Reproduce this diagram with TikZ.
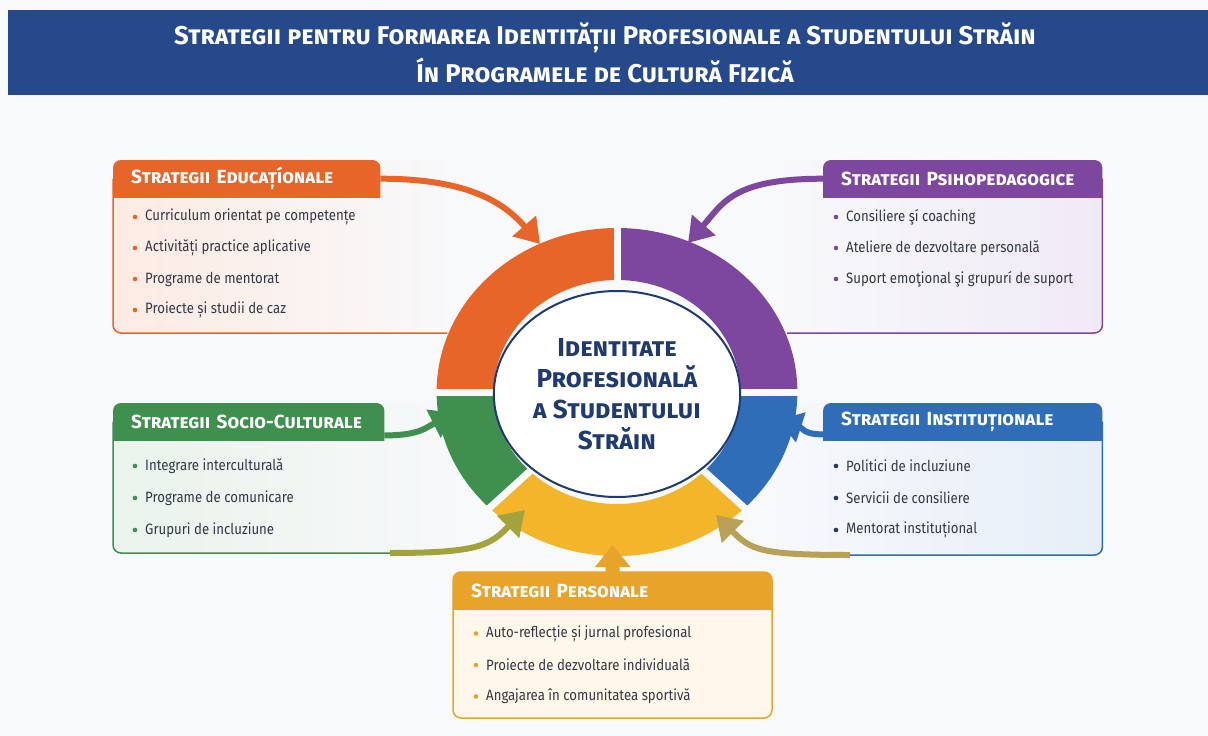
\documentclass[tikz,border=0pt]{standalone}
\usepackage{fontspec}
\setmainfont{Fira Sans}[FakeStretch=0.88]
\newfontfamily\widefont{Fira Sans}
\usetikzlibrary{arrows.meta,backgrounds,shapes.geometric}

\definecolor{titleblue}{HTML}{25498A}
\definecolor{navytext}{HTML}{1E3A6E}
\definecolor{eduorange}{HTML}{E8652A}
\definecolor{edutint}{HTML}{FCEBE3}
\definecolor{psypurple}{HTML}{7D479F}
\definecolor{psytint}{HTML}{F0EAF6}
\definecolor{socgreen}{HTML}{3F8F4F}
\definecolor{soctint}{HTML}{EAF3EC}
\definecolor{instblue}{HTML}{2F6DB9}
\definecolor{insttint}{HTML}{E6EEF8}
\definecolor{persyellow}{HTML}{F3B62B}
\definecolor{persgold}{HTML}{E8A42A}
\definecolor{perscream}{HTML}{FFF8EA}
\definecolor{itemtext}{HTML}{333844}
\definecolor{pagebg}{HTML}{F8F9FB}
\colorlet{greenyellow}{socgreen!45!persyellow}
\colorlet{blueyellow}{instblue!30!persyellow}

\tikzset{
  head/.style={anchor=north west, minimum height=37pt, inner xsep=18pt, inner ysep=0pt,
    text width=#1, align=left, text=white, font=\widefont\fontsize{19}{22}\selectfont\bfseries\scshape},
  item/.style={anchor=west, inner sep=0pt, text=itemtext, font=\fontsize{15}{18}\selectfont},
  flowarrow/.style={line width=6pt, -{Triangle[width=30pt,length=24pt]}},
  boxline/.style={line width=1.5pt, rounded corners=8pt},
}

\begin{document}
\begin{tikzpicture}[x=1pt, y=-1pt]
\useasboundingbox (0,0) rectangle (1208,736);
\begin{scope}[on background layer]
  \fill[pagebg] (0,0) rectangle (1208,736);
\end{scope}

% title bar
\fill[titleblue] (8,10) rectangle (1208,95);
\node[text=white, align=center, font=\widefont\fontsize{25.7}{38}\selectfont\bfseries\scshape] (title) at (605,53)
  {Strategii pentru Formarea Identității Profesionale a Studentului Străin\\Ín Programele de Cultură Fizică};

% educational strategies
\node[head=231pt] (eduHead) at (113,160) {Strategii Educațíonale};
\begin{scope}[on background layer]
  \shade[left color=edutint, right color=pagebg, rounded corners=8pt] (113,160) rectangle (455,333);
  \draw[eduorange, boxline] (eduHead.west) |- (447,333);
  \begin{scope}
    \clip (eduHead.south west) rectangle (eduHead.north east);
    \fill[eduorange, rounded corners=8pt] ([yshift=-10pt]eduHead.south west) rectangle (eduHead.north east);
  \end{scope}
\end{scope}
\foreach \txt [count=\i] in {Curriculum orientat pe competențe, Activități practice aplicative, Programe de mentorat, Proiecte și studii de caz}{
  \fill[eduorange] (135,{186+31*\i}) circle (2.3pt);
  \node[item] (edu\i) at (145,{186+31*\i}) {\txt};
}

% psycho-pedagogical strategies
\node[head=243pt] (psyHead) at (823,160) {Strategii Psihopedagogice};
\begin{scope}[on background layer]
  \shade[left color=pagebg, right color=psytint, rounded corners=8pt] (780,160) rectangle (1102,333);
  \draw[psypurple, boxline] (psyHead.east) |- (787,333);
  \begin{scope}
    \clip (psyHead.south west) rectangle (psyHead.north east);
    \fill[psypurple, rounded corners=8pt] ([yshift=-10pt]psyHead.south west) rectangle (psyHead.north east);
  \end{scope}
\end{scope}
\foreach \txt [count=\i] in {Consiliere şí coaching, Ateliere de dezvoltare personală, Suport emoţional şi grupurí de suport}{
  \fill[psypurple] (836,{186+31*\i}) circle (2.3pt);
  \node[item] (psy\i) at (846,{186+31*\i}) {\txt};
}

% socio-cultural strategies
\node[head=235pt] (socHead) at (113,403) {Strategii Socio-Culturale};
\begin{scope}[on background layer]
  \shade[left color=soctint, right color=pagebg, rounded corners=8pt] (113,403) rectangle (480,553);
  \draw[socgreen, boxline] (socHead.west) |- (390,553);
  \begin{scope}
    \clip (socHead.south west) rectangle (socHead.north east);
    \fill[socgreen, rounded corners=8pt] ([yshift=-10pt]socHead.south west) rectangle (socHead.north east);
  \end{scope}
\end{scope}
\foreach \txt [count=\i] in {Integrare interculturală, Programe de comunicare, Grupuri de incluziune}{
  \fill[socgreen] (135,{434+32*\i}) circle (2.3pt);
  \node[item] (soc\i) at (145,{434+32*\i}) {\txt};
}

% institutional strategies
\node[head=243pt] (instHead) at (823,403) {Strategii Instituționale};
\begin{scope}[on background layer]
  \shade[left color=pagebg, right color=insttint, rounded corners=8pt] (760,403) rectangle (1102,555);
  \draw[instblue, boxline] (instHead.east) |- (850,555);
  \begin{scope}
    \clip (instHead.south west) rectangle (instHead.north east);
    \fill[instblue, rounded corners=8pt] ([yshift=-10pt]instHead.south west) rectangle (instHead.north east);
  \end{scope}
\end{scope}
\foreach \txt [count=\i] in {Politici de incluziune, Servicii de consiliere, Mentorat instituțional}{
  \fill[navytext] (836,{434+32*\i}) circle (2.3pt);
  \node[item] (inst\i) at (846,{434+32*\i}) {\txt};
}

% personal strategies
\node[head=283pt] (persHead) at (453,572) {Strategii Personale};
\begin{scope}[on background layer]
  \draw[persgold, fill=perscream, boxline] (453,572) rectangle (772,718);
  \begin{scope}
    \clip (persHead.south west) rectangle (persHead.north east);
    \fill[persgold, rounded corners=8pt] ([yshift=-10pt]persHead.south west) rectangle (persHead.north east);
  \end{scope}
\end{scope}
\foreach \txt [count=\i] in {Auto-reflecție și jurnal profesional, Proiecte de dezvoltare individuală, Angajarea în comunitatea sportivă}{
  \fill[persgold] (476,{602+31.5*\i}) circle (2.3pt);
  \node[item] (pers\i) at (486,{602+31.5*\i}) {\txt};
}

% ring of strategies
\begin{scope}[shift={(617,392)}, xscale=1.1]
  \fill[eduorange] (180:164) arc[start angle=180, end angle=270, radius=164] -- (270:112) arc[start angle=270, end angle=180, radius=112] -- cycle;
  \fill[psypurple] (270:164) arc[start angle=270, end angle=360, radius=164] -- (0:112) arc[start angle=360, end angle=270, radius=112] -- cycle;
  \fill[instblue] (0:164) arc[start angle=0, end angle=45, radius=164] -- (45:112) arc[start angle=45, end angle=0, radius=112] -- cycle;
  \fill[persyellow] (45:164) arc[start angle=45, end angle=135, radius=164] -- (135:112) arc[start angle=135, end angle=45, radius=112] -- cycle;
  \fill[socgreen] (135:164) arc[start angle=135, end angle=180, radius=164] -- (180:112) arc[start angle=180, end angle=135, radius=112] -- cycle;
  % gaps between segments
  \foreach \a in {0,45,135,180,270}
    \draw[pagebg, line width=7pt] (\a:105) -- (\a:170);
\end{scope}

% centre of the ring
\node[ellipse, draw=navytext, line width=2pt, fill=white, minimum width=230pt, minimum height=206pt,
  align=center, text=navytext, font=\widefont\fontsize{26}{31}\selectfont\bfseries\scshape] (ident) at (617,394)
  {Identitate\\Profesională\\a Studentului\\Străin};

% arrow tips on the ring
\coordinate (eduTip) at (540,244);
\coordinate (psyTip) at (688,243);
\coordinate (socTip) at (455,413);
\coordinate (instTip) at (778,420);
\coordinate (socFoot) at (390,553);
\coordinate (instFoot) at (850,555);
\coordinate (yellowTipL) at (525,510);
\coordinate (yellowTipR) at (716,515);
\coordinate (persTip) at (612.5,545);

\draw[flowarrow, eduorange] (eduHead.east) .. controls +(90,0) and +(-35,-40) .. (eduTip);
\draw[flowarrow, psypurple] (psyHead.west) .. controls +(-90,0) and +(35,-40) .. (psyTip);
\draw[flowarrow, socgreen] ([yshift=5pt]socHead.south east) .. controls +(35,0) and +(-30,15) .. (socTip);
\draw[flowarrow, instblue] ([yshift=6pt]instHead.south west) .. controls +(-20,0) and +(25,8) .. (instTip);
\draw[flowarrow, greenyellow] (socFoot) .. controls +(90,0) and +(-35,35) .. (yellowTipL);
\draw[flowarrow, blueyellow] (instFoot) .. controls +(-90,0) and +(35,35) .. (yellowTipR);
\draw[line width=14pt, persgold, -{Triangle[width=34pt,length=22pt]}] (persHead.north) -- (persTip);
\end{tikzpicture}
\end{document}
